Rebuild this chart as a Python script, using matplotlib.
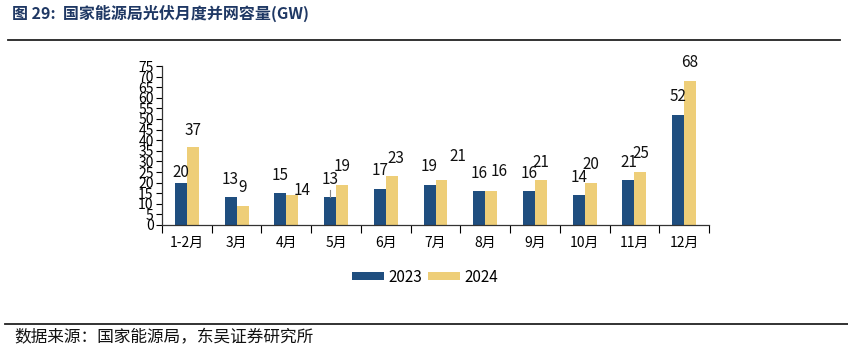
import numpy as np
import matplotlib.pyplot as plt
from matplotlib.lines import Line2D

plt.rcParams['font.family'] = ['Noto Sans CJK SC', 'DejaVu Sans']

months = ['1-2月', '3月', '4月', '5月', '6月', '7月', '8月', '9月', '10月', '11月', '12月']
v2023 = [20, 13, 15, 13, 17, 19, 16, 16, 14, 21, 52]
v2024 = [37, 9, 14, 19, 23, 21, 16, 21, 20, 25, 68]

# label nudges (pixels) where the original labels sit off the default spot
nudge_2023 = {0: (0, -8)}
nudge_2024 = {0: (0, -2), 2: (10, -13), 4: (4, 0), 5: (16, 6), 6: (8, 2)}

C23 = '#1F4E7F'
C24 = '#EECE78'


def plot_chart():
    fig = plt.figure(figsize=(8.48, 3.5), dpi=100)
    ax = fig.add_axes([162 / 848, 1 - 225 / 350, (709 - 162) / 848, (225 - 66) / 350])

    x = np.arange(len(months))
    w = 0.24
    b1 = ax.bar(x - w / 2, v2023, w, color=C23, label='2023')
    b2 = ax.bar(x + w / 2, v2024, w, color=C24, label='2024')

    for bars, vals, nud in ((b1, v2023, nudge_2023), (b2, v2024, nudge_2024)):
        for i, (r, v) in enumerate(zip(bars, vals)):
            dx, dy = nud.get(i, (0, 0))
            ax.annotate(str(v), (r.get_x() + r.get_width() / 2, v),
                        xytext=(dx, 18 + dy), textcoords='offset pixels',
                        ha='center', va='center', fontsize=11, color='#111111')

    # small leader line on the May 2023 label
    ax.plot([3 - w / 2, 3 - w / 2], [13, 16.3], color='#888888', lw=0.8)

    ax.set_xlim(-0.5, len(months) - 0.5)
    ax.set_ylim(0, 75)
    ax.set_yticks(np.arange(0, 80, 5))
    ax.tick_params(axis='y', labelsize=10, length=4, width=0.8, pad=2)
    ax.set_xticks(x)
    ax.set_xticklabels(months, fontsize=10)
    ax.set_xticks(np.arange(-0.5, len(months), 1), minor=True)
    ax.tick_params(axis='x', which='major', length=0, pad=8)
    ax.tick_params(axis='x', which='minor', length=6, width=0.8)
    for s in ('top', 'right'):
        ax.spines[s].set_visible(False)
    for s in ('left', 'bottom'):
        ax.spines[s].set_linewidth(0.9)
        ax.spines[s].set_color('#333333')

    ax.legend(loc='center', bbox_to_anchor=(425 / 848, 1 - 277 / 350),
              bbox_transform=fig.transFigure, ncol=2, frameon=False,
              fontsize=11, handlelength=2.1, handleheight=0.5,
              columnspacing=0.4, handletextpad=0.3)

    fig.text(12 / 848, 1 - 13 / 350, '图 29:  国家能源局光伏月度并网容量(GW)',
             fontsize=11.5, fontweight='bold', color='#1F3864', ha='left', va='center')
    fig.add_artist(Line2D([8 / 848, 840 / 848], [1 - 40 / 350] * 2, color='#222222', lw=1.3))
    fig.add_artist(Line2D([5 / 848, 1.0], [1 - 324 / 350] * 2, color='#222222', lw=1.3))
    fig.text(14 / 848, 1 - 338 / 350, '数据来源：国家能源局，东吴证券研究所',
             fontsize=12, color='#111111', ha='left', va='center')

    fig.savefig('out.png', dpi=100)


if __name__ == "__main__":
    plot_chart()
